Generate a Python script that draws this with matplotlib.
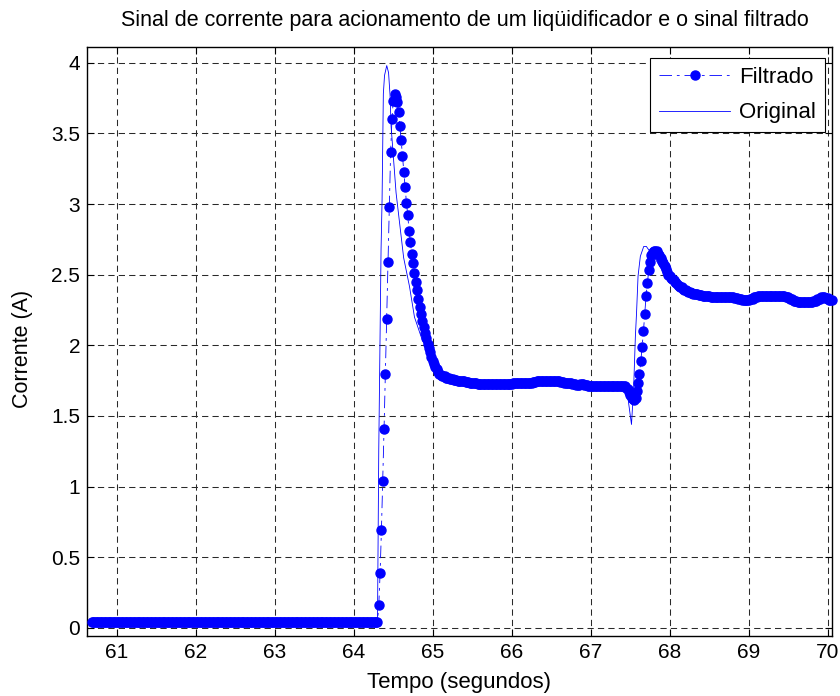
import matplotlib
matplotlib.use('Agg')
import numpy as np
import matplotlib.pyplot as plt
from matplotlib.ticker import FuncFormatter
from matplotlib.lines import Line2D

plt.rcParams['font.family'] = ['Liberation Sans', 'DejaVu Sans']
plt.rcParams['lines.scale_dashes'] = False

filt_t0 = 60.68      # primeira amostra (s)
filt_dt = 1 / 60     # periodo de amostragem (s)

# motor parado
y_parado = [0.04] * 217
# partida
y_partida = [0.04, 0.16, 0.39, 0.69, 1.04, 1.41, 1.80, 2.19, 2.59, 2.98,
             3.37, 3.60, 3.73, 3.78, 3.76, 3.72, 3.65, 3.55, 3.45, 3.34,
             3.23, 3.12, 3.01, 2.92, 2.81, 2.73, 2.65, 2.58, 2.51, 2.45,
             2.39, 2.33, 2.27, 2.22, 2.17, 2.13, 2.09, 2.05, 2.01, 1.98,
             1.95, 1.92, 1.89, 1.87, 1.85, 1.83, 1.81, 1.80, 1.79]
# primeira velocidade
y_vel1 = ([1.78] * 3 + [1.77] * 3 + [1.76] * 3 + [1.755] * 3 + [1.75] * 3
          + [1.745] * 3 + [1.74] * 3 + [1.735] * 3 + [1.73] * 3 + [1.725] * 27
          + [1.73] * 12 + [1.735] * 3 + [1.74] * 3 + [1.745] * 3 + [1.75] * 12
          + [1.745] * 3 + [1.74] * 3 + [1.735] * 3 + [1.73] * 3 + [1.725] * 3
          + [1.72] * 3 + [1.725] * 3 + [1.72] * 3 + [1.715] * 3 + [1.71] * 23)
# troca de velocidade
y_troca = [1.71, 1.71, 1.71, 1.70, 1.69, 1.67, 1.65, 1.63, 1.62, 1.61,
           1.63, 1.68, 1.73, 1.80, 1.89, 1.99, 2.10, 2.22, 2.35, 2.44,
           2.53, 2.59, 2.64, 2.66, 2.67, 2.67, 2.665, 2.65, 2.64, 2.62,
           2.60, 2.58, 2.56, 2.54, 2.52, 2.50, 2.49]
# segunda velocidade
y_vel2 = ([2.48, 2.47, 2.46, 2.45, 2.44, 2.43, 2.42, 2.415, 2.41, 2.40, 2.395,
           2.39, 2.385, 2.38, 2.375, 2.37, 2.37, 2.365]
          + [2.36] * 3 + [2.355] * 3 + [2.35] * 6 + [2.345] * 3 + [2.34] * 15
          + [2.335] * 3 + [2.33] * 3 + [2.32] * 6 + [2.33] * 3 + [2.345] * 3
          + [2.35] * 21 + [2.345] * 3 + [2.33] * 3 + [2.315] * 3 + [2.31] * 12
          + [2.315] * 3 + [2.33] * 3 + [2.345] * 3 + [2.335] * 3 + [2.32] * 3)

# ---- sinal original ----
orig_t = [60.68, 64.29, 64.297, 64.313, 64.342, 64.355, 64.371, 64.386, 64.414,
          64.437, 64.456, 64.469, 64.532, 64.628, 64.701, 64.765, 64.850,
          64.956, 65.019, 65.168, 65.358, 65.6, 66.0, 66.3, 66.5, 66.8, 67.0,
          67.43, 67.455, 67.476, 67.512, 67.540, 67.561, 67.576, 67.595,
          67.624, 67.667, 67.700, 67.731, 67.773, 67.985, 68.2, 68.5, 68.9,
          69.0, 69.1, 69.5, 69.6, 69.85, 69.95, 70.05]
orig_y = [0.04, 0.04, 0.04, 1.26, 2.675, 3.03, 3.78, 3.91, 3.98,
          3.93, 3.77, 3.55, 3.08, 2.62, 2.42, 2.20, 2.06,
          1.92, 1.85, 1.79, 1.75, 1.73, 1.725, 1.74, 1.75, 1.72, 1.71,
          1.71, 1.71, 1.59, 1.44, 1.71, 2.06, 2.23, 2.49,
          2.63, 2.70, 2.70, 2.675, 2.65, 2.45, 2.39, 2.35, 2.33,
          2.32, 2.345, 2.345, 2.315, 2.315, 2.345, 2.32]

filt_y = np.array(y_parado + y_partida + y_vel1 + y_troca + y_vel2)
filt_t = filt_t0 + filt_dt * np.arange(len(filt_y))

fig = plt.figure(figsize=(8.4, 6.96), dpi=100)
ax = fig.add_axes([87 / 840, 60 / 696, 745 / 840, 589.5 / 696])

blue = (0, 0, 1)
fs = 15.5
dash_dot = (9, 3.5, 2, 3.5)
ax.plot(filt_t, filt_y, color=blue, lw=0.6, dashes=dash_dot,
        marker='o', ms=6.5, mfc=blue, mec=blue, clip_on=False, zorder=3)
ax.plot(orig_t, orig_y, color=blue, lw=0.6, zorder=4)

ax.set_xlim(60.62, 70.05)
ax.set_ylim(-0.057, 4.115)
ax.set_xticks(range(61, 71))
ax.set_yticks(np.arange(0, 4.01, 0.5))
ax.yaxis.set_major_formatter(FuncFormatter(lambda v, p: '%g' % v))

ax.grid(True, color='#2a2a2a', lw=0.75, dashes=(4.5, 3))
ax.set_axisbelow(True)
ax.tick_params(direction='in', length=5, width=0.8, top=True, right=True,
               labelsize=15, pad=5, colors='black')
for sp in ax.spines.values():
    sp.set_linewidth(1.0)

ax.set_xlabel('Tempo (segundos)', fontsize=16)
ax.xaxis.set_label_coords(0.5, -0.0797)
ax.xaxis.label.set_va('center')
ax.set_ylabel('Corrente (A)', fontsize=fs)
ax.yaxis.set_label_coords(-0.087, 0.487)
ax.yaxis.label.set_va('center')

fig.text(465 / 840, 1 - 20.5 / 696, 'Sinal de corrente para acionamento de um liqüidificador e o sinal filtrado',
         ha='center', va='center', fontsize=fs)

handles = [Line2D([], [], color=blue, lw=0.6, dashes=dash_dot, marker='o',
                  ms=6.5, mfc=blue, mec=blue),
           Line2D([], [], color=blue, lw=0.6)]
leg = ax.legend(handles, ['Filtrado', 'Original'], loc='upper right',
                bbox_to_anchor=(825 / 840, 1 - 58 / 696), bbox_transform=fig.transFigure,
                fontsize=16, fancybox=False, framealpha=1, edgecolor='black',
                handlelength=3.2, borderaxespad=0, borderpad=0.4, labelspacing=0.65,
                handletextpad=0.4)
leg.get_frame().set_linewidth(0.8)

fig.savefig('out.png', dpi=100)
